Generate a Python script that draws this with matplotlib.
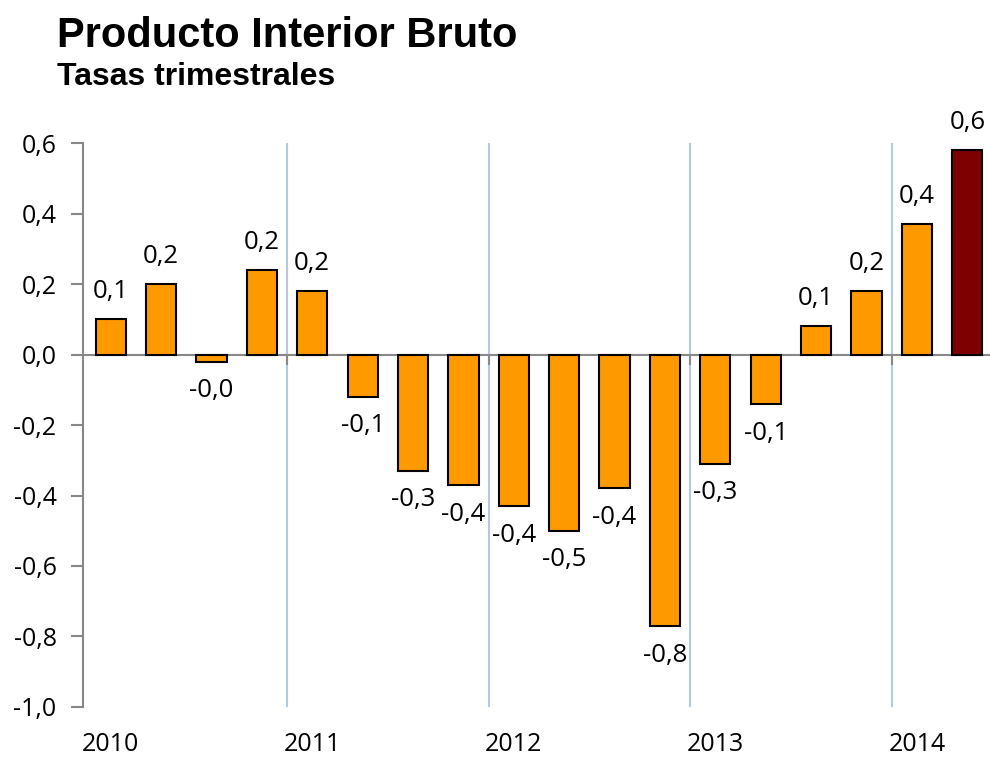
import matplotlib.pyplot as plt
import matplotlib.transforms as mtransforms
import numpy as np

# Quarterly GDP growth rates, 2010 Q1 - 2014 Q2
values = [0.10, 0.20, -0.02, 0.24, 0.18, -0.12, -0.33, -0.37, -0.43,
          -0.50, -0.38, -0.77, -0.31, -0.14, 0.08, 0.18, 0.37, 0.58]
years = ['2010', '2011', '2012', '2013', '2014']
year_pos = [0, 4, 8, 12, 16]
boundaries = [3.5, 7.5, 11.5, 15.5]

plt.rcParams['font.family'] = ['Open Sans', 'DejaVu Sans']

fig = plt.figure(figsize=(9.9, 7.58), dpi=100)
ax = fig.add_axes([0.0838, 0.0673, 0.9162, 0.744])

x = np.arange(len(values))
colors = ['#FF9900'] * (len(values) - 1) + ['#7F0000']
ax.bar(x, values, width=0.6, color=colors, edgecolor='black', linewidth=1.5, zorder=3)

for b in boundaries:
    ax.axvline(b, color='#B4C7E7', linewidth=1.5, zorder=1)

for xi, v in zip(x, values):
    txt = f"{v:.1f}".replace('.', ',')
    if v >= 0:
        ax.annotate(txt, (xi, v), xytext=(0, 11), textcoords='offset points',
                    ha='center', va='bottom', fontsize=18.5)
    else:
        ax.annotate(txt, (xi, v), xytext=(0, -12), textcoords='offset points',
                    ha='center', va='top', fontsize=18.5)

ax.set_xlim(-0.55, 17.45)
ax.set_ylim(-1.0, 0.6)
yt = np.arange(-1.0, 0.61, 0.2)
ax.set_yticks(yt)
ax.set_yticklabels([f"{t:.1f}".replace('.', ',').replace('-0,0', '0,0') for t in yt], fontsize=18)

ax.spines['top'].set_visible(False)
ax.spines['right'].set_visible(False)
ax.spines['bottom'].set_position(('data', 0))
ax.spines['bottom'].set_color('#888888')
ax.spines['bottom'].set_linewidth(1.5)
ax.spines['left'].set_color('#888888')
ax.spines['left'].set_linewidth(1.5)
ax.tick_params(axis='y', colors='#888888', length=9, width=1.5, labelcolor='black', pad=10)
ax.set_xticks(boundaries)
ax.set_xticklabels([])
ax.tick_params(axis='x', colors='#888888', length=7, width=1.5)

trans = mtransforms.blended_transform_factory(ax.transData, ax.transAxes)
for p, y in zip(year_pos, years):
    ax.text(p, -0.066, y, transform=trans, ha='center', va='center', fontsize=18)

fig.text(0.058, 0.953, 'Producto Interior Bruto', fontsize=30, fontweight='bold',
         family='Liberation Sans', va='center', ha='left')
fig.text(0.058, 0.898, 'Tasas trimestrales', fontsize=23, fontweight='bold',
         family='Liberation Sans', va='center', ha='left')

plt.savefig('out.png', dpi=100)
